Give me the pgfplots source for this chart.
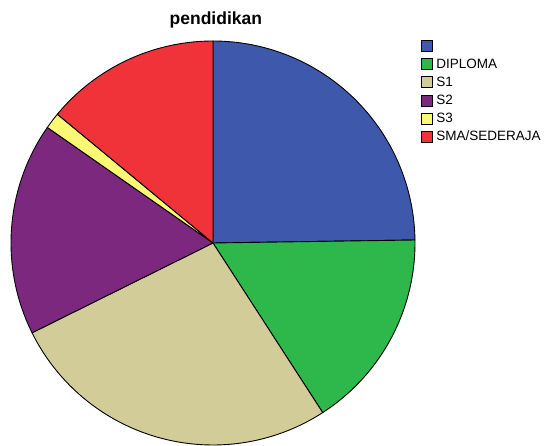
\documentclass[border=0pt]{standalone}
\usepackage{pgfplots}
\pgfplotsset{compat=1.18}
\usepackage{fontspec}
\setmainfont{Liberation Sans}
\definecolor{cBlank}{RGB}{62,88,172}
\definecolor{cDip}{RGB}{46,184,75}
\definecolor{cSone}{RGB}{210,204,152}
\definecolor{cStwo}{RGB}{124,40,127}
\definecolor{cSthree}{RGB}{251,248,115}
\definecolor{cSma}{RGB}{239,51,56}
\begin{document}
\begin{tikzpicture}[x=1pt,y=1pt]
\useasboundingbox (0,0) rectangle (548,446);
\begin{axis}[
  at={(11pt,1pt)}, anchor=south west,
  scale only axis, width=404pt, height=404pt,
  xmin=-1, xmax=1, ymin=-1, ymax=1,
  hide axis, clip=false,
  title={\bfseries pendidikan},
  title style={at={(axis description cs:0.507,1.038)}, anchor=center, font=\fontsize{17.5}{20}\selectfont, inner sep=0pt},
  legend style={draw=none, fill=none, at={(axis description cs:1.015,1.002)}, anchor=north west,
    font=\fontsize{13.5}{15}\selectfont, row sep=6.2pt, inner sep=0pt,
    nodes={inner sep=0.5pt, anchor=west},
    /tikz/every odd column/.append style={column sep=3pt}},
  legend cell align=left,
  legend image code/.code={\draw[#1, draw=black, line width=0.5pt] (0pt,-5.5pt) rectangle (11pt,5.5pt);},
  every axis plot/.append style={draw=black, line width=0.9pt, samples=80, variable=\t},
]
% slice boundaries (degrees, counter-clockwise from 3 o'clock)
% blank 24.8%, DIPLOMA 16.1%, S1 26.8%, S2 17.0%, S3 1.3%, SMA/SEDERAJA 14.0%
\addplot[fill=cBlank, domain=0.85:90] ({cos(t)},{sin(t)}) -- (axis cs:0,0) -- cycle;
\addlegendentry{}
\addplot[fill=cDip, domain=-57.1:0.85] ({cos(t)},{sin(t)}) -- (axis cs:0,0) -- cycle;
\addlegendentry{DIPLOMA}
\addplot[fill=cSone, domain=-153.6:-57.1] ({cos(t)},{sin(t)}) -- (axis cs:0,0) -- cycle;
\addlegendentry{S1}
\addplot[fill=cStwo, domain=145.1:206.4] ({cos(t)},{sin(t)}) -- (axis cs:0,0) -- cycle;
\addlegendentry{S2}
\addplot[fill=cSthree, domain=140.4:145.1] ({cos(t)},{sin(t)}) -- (axis cs:0,0) -- cycle;
\addlegendentry{S3}
\addplot[fill=cSma, domain=90:140.4] ({cos(t)},{sin(t)}) -- (axis cs:0,0) -- cycle;
\addlegendentry{SMA/SEDERAJA}
\end{axis}
\end{tikzpicture}
\end{document}
